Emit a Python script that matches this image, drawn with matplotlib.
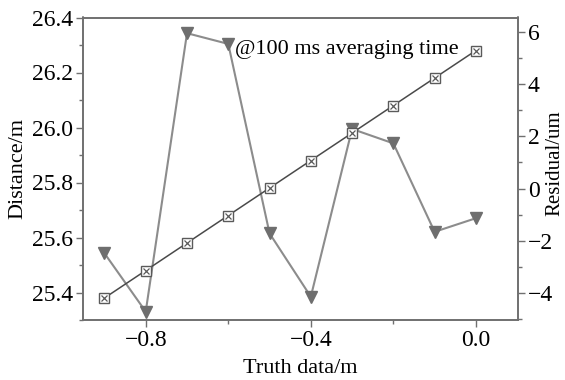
import matplotlib
matplotlib.use("Agg")
import matplotlib.pyplot as plt
from matplotlib.ticker import MultipleLocator, FixedLocator

plt.rcParams['font.family'] = ['Liberation Serif', 'DejaVu Serif']

truth = [-0.9, -0.8, -0.7, -0.6, -0.5, -0.4, -0.3, -0.2, -0.1, 0.0]
distance = [25.38, 25.48, 25.58, 25.68, 25.78, 25.88, 25.98, 26.08, 26.18, 26.28]
residual = [-2.47, -4.70, 5.94, 5.53, -1.71, -4.13, 2.28, 1.73, -1.65, -1.13]

fig = plt.figure(figsize=(5.65, 3.8), dpi=100)
ax = fig.add_axes([83/565, 1 - 320/380, (518-83)/565, (320-17.5)/380])
ax2 = ax.twinx()

spine_c = '#707070'
line_gray = '#8c8c8c'
mark_gray = '#6e6e6e'
dark = '#4a4a4a'

# residual (right axis)
ax2.plot(truth, residual, color=line_gray, lw=1.5, marker='v', ms=9,
         markerfacecolor=mark_gray, markeredgecolor=mark_gray, zorder=2)

# distance (left axis)
ax.plot(truth, distance, color=dark, lw=1.1, zorder=3)
ax.plot(truth, distance, ls='none', marker='s', ms=7, markerfacecolor='white',
        markeredgecolor='#5a5a5a', markeredgewidth=1.0, zorder=4)
ax.plot(truth, distance, ls='none', marker='x', ms=5, markeredgecolor='#5a5a5a',
        markeredgewidth=0.9, zorder=5)
ax.set_zorder(ax2.get_zorder() + 1)
ax.patch.set_visible(False)

ax.set_xlim(-0.952, 0.102)
ax.set_ylim(25.30, 26.40)
ax2.set_ylim(-5.02, 6.54)

ax.xaxis.set_major_locator(FixedLocator([-0.8, -0.4, 0.0]))
ax.xaxis.set_minor_locator(FixedLocator([-0.6, -0.2]))
ax.yaxis.set_minor_locator(MultipleLocator(0.1))
ax2.yaxis.set_minor_locator(MultipleLocator(1))

ax.set_xticklabels(['\u22120.8', '\u22120.4', '0.0'])
ax.set_yticks([25.4, 25.6, 25.8, 26.0, 26.2, 26.4])
ax.set_yticklabels(['25.4', '25.6', '25.8', '26.0', '26.2', '26.4'])
ax2.set_yticks([-4, -2, 0, 2, 4, 6])
ax2.set_yticklabels(['\u22124', '\u22122', '0', '2', '4', '6'])

for a in (ax, ax2):
    for s in a.spines.values():
        s.set_color(spine_c)
        s.set_linewidth(1.2)
    a.tick_params(which='major', direction='out', length=5, width=1.0, color=spine_c,
                  labelsize=17, pad=2)
    a.tick_params(which='minor', direction='out', length=3, width=1.0, color=spine_c)

ax.set_xlabel('Truth data/m', fontsize=16)
ax.set_ylabel('Distance/m', fontsize=16)
ax2.set_ylabel('Residual/um', fontsize=15)
ax.xaxis.set_label_coords(0.5, -0.128)
ax.yaxis.set_label_coords(-0.129, 0.5)
ax2.yaxis.set_label_coords(1.064, 0.52)

ax.text(-0.584, 26.283, '@100 ms averaging time', fontsize=16, ha='left', va='center')

fig.savefig('out.png', dpi=100)
